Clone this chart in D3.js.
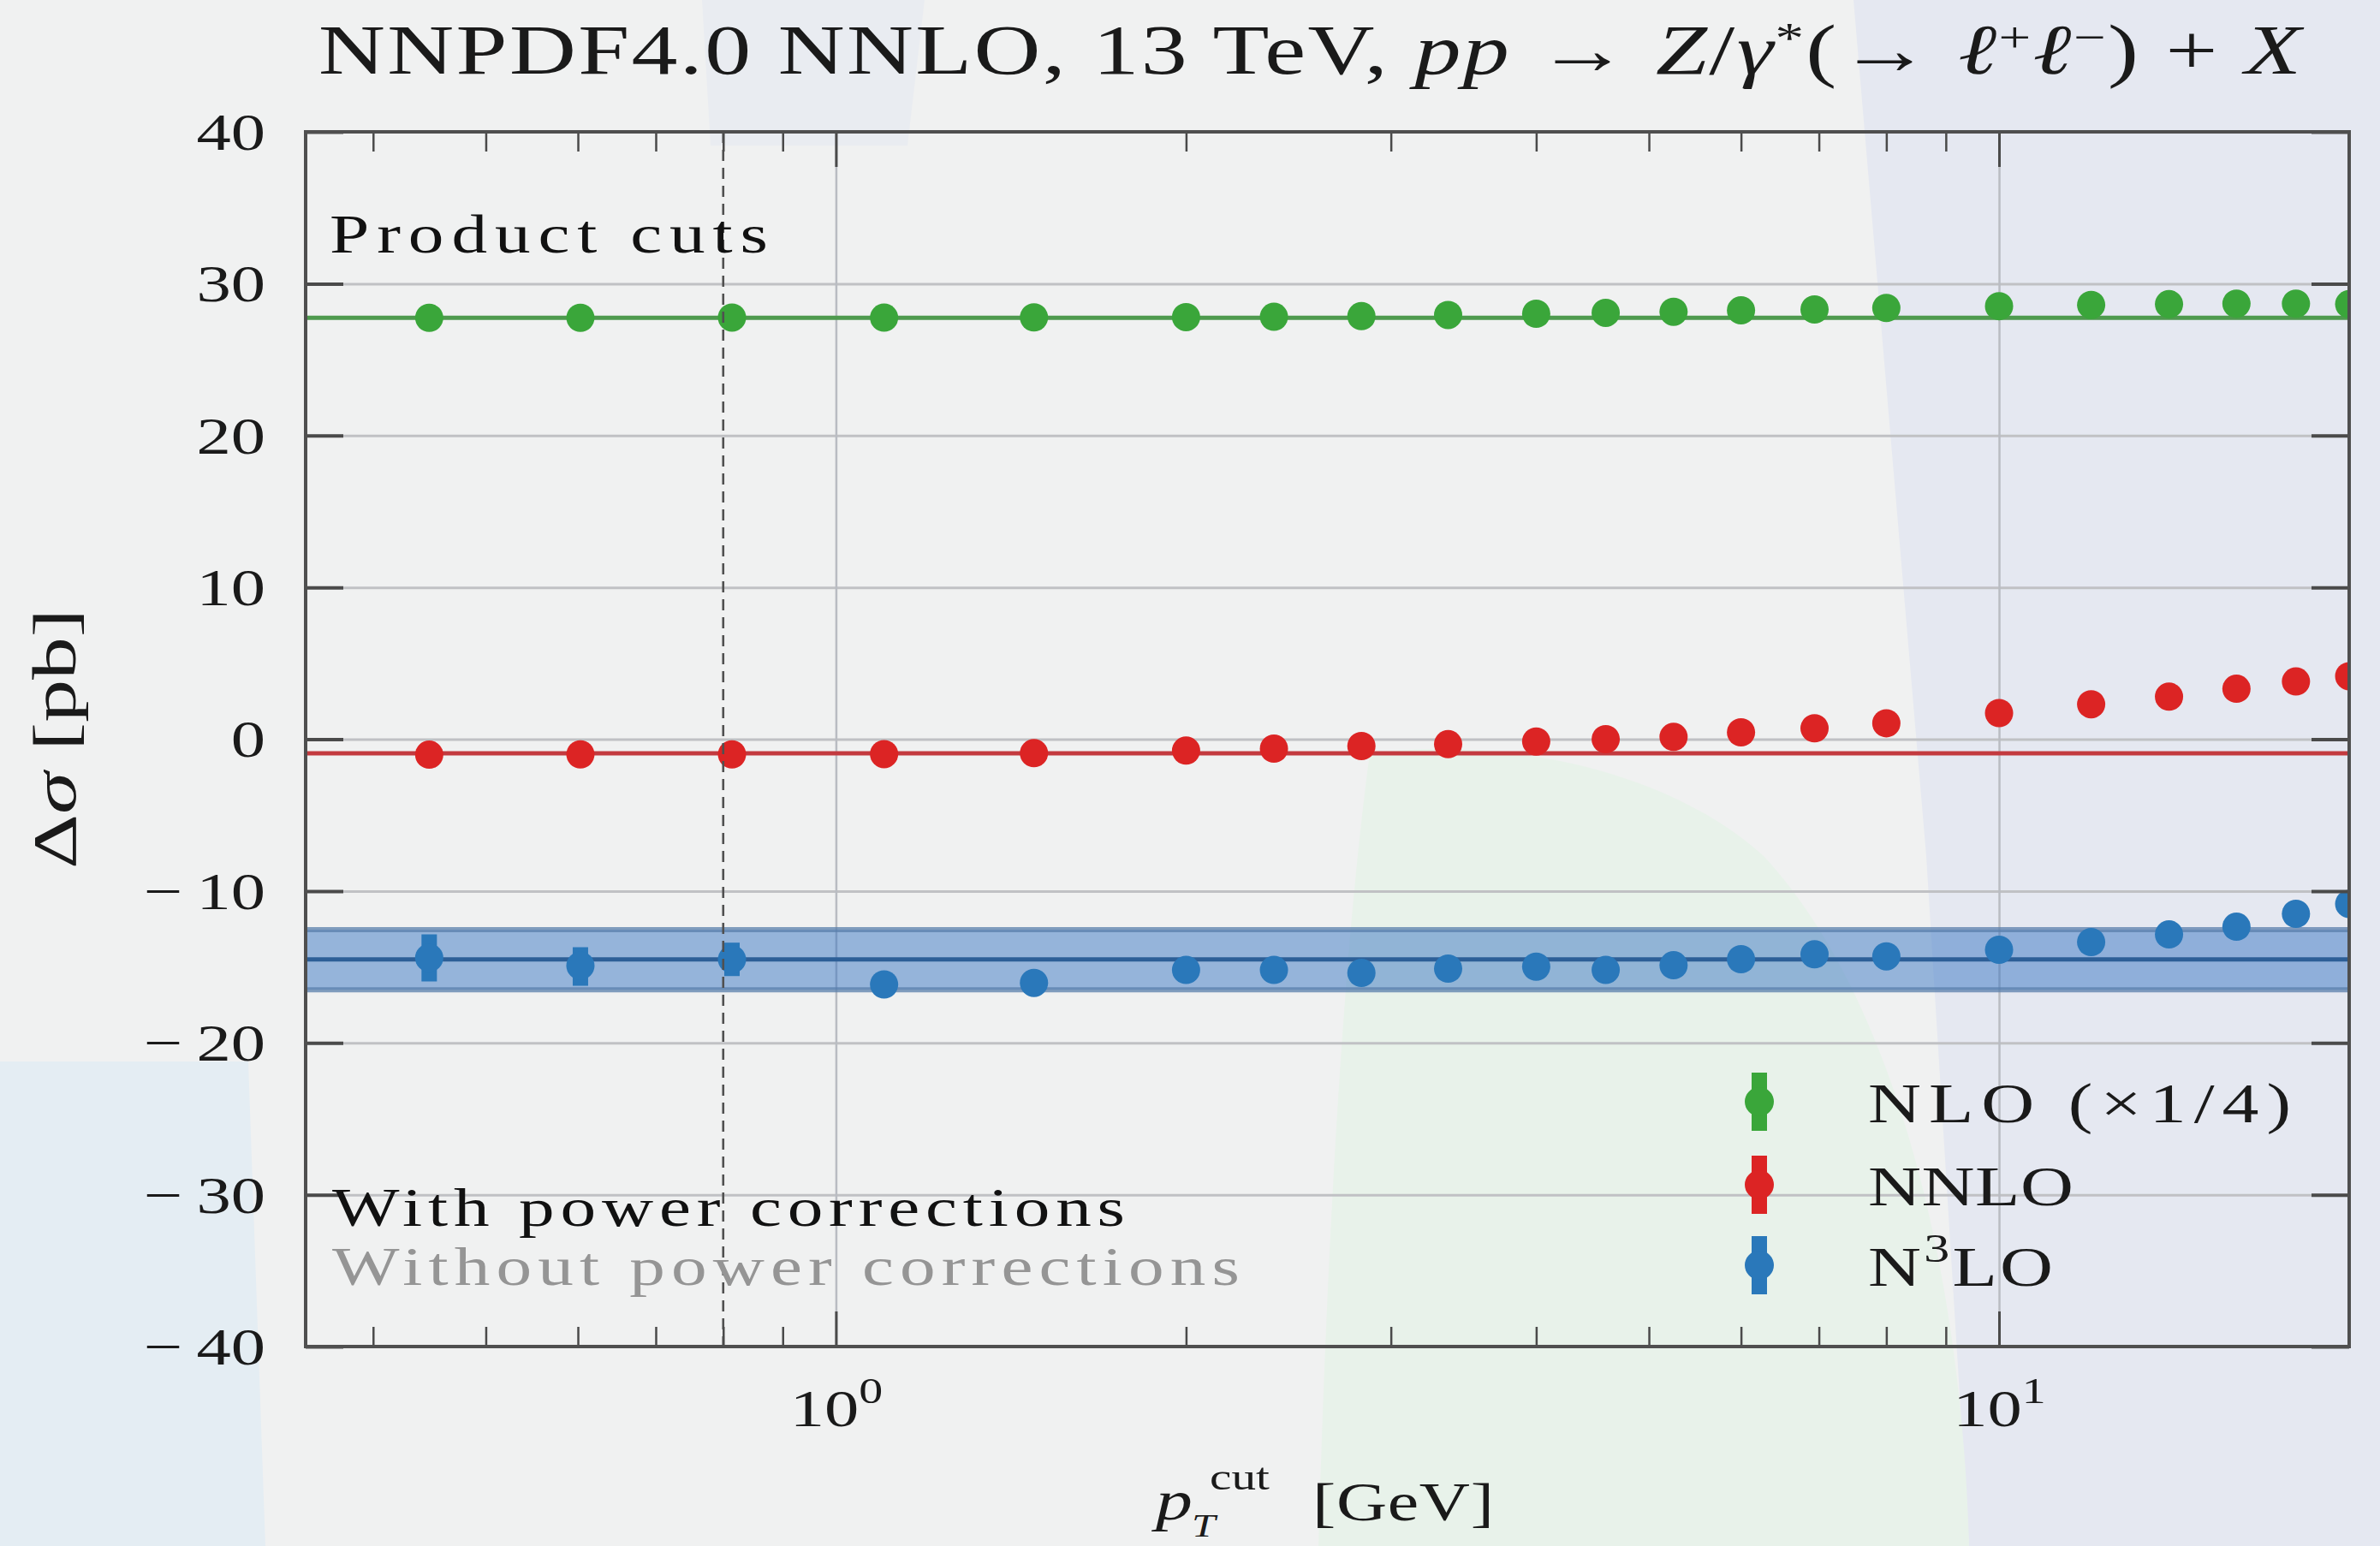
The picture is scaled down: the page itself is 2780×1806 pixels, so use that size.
<!DOCTYPE html>
<html><head><meta charset="utf-8">
<script src="https://cdn.jsdelivr.net/npm/d3@7"></script>
<style>
html,body{margin:0;padding:0;background:#f0f1f1;}
svg{display:block;}
text{font-family:"Liberation Serif","DejaVu Serif",serif;}
</style></head><body>
<svg id="chart" width="2780" height="1806"></svg>
<script>
// ---------------- data ----------------
const pTcut = [0.447, 0.603, 0.814, 1.1, 1.48, 2, 2.38, 2.83, 3.36, 4, 4.59, 5.25, 6, 6.94, 8, 10, 12, 14, 16, 18, 20];
const nloQuarter = [27.75, 27.75, 27.77, 27.76, 27.78, 27.8, 27.82, 27.86, 27.94, 28.02, 28.08, 28.15, 28.24, 28.3, 28.4, 28.52, 28.6, 28.65, 28.68, 28.68, 28.65];
const nnlo = [-1.02, -1.0, -1.0, -0.98, -0.92, -0.75, -0.62, -0.45, -0.33, -0.15, 0.0, 0.15, 0.45, 0.72, 1.05, 1.72, 2.3, 2.8, 3.32, 3.8, 4.15];
const n3lo = [-14.4, -14.92, -14.5, -16.15, -16.05, -15.2, -15.2, -15.39, -15.11, -14.98, -15.2, -14.89, -14.49, -14.17, -14.3, -13.87, -13.36, -12.86, -12.35, -11.5, -10.85];
const n3loErrUp = [1.54, 1.22, 1.1, 0, 0, 0, 0, 0, 0, 0, 0, 0, 0, 0, 0, 0, 0, 0, 0, 0, 0];
const n3loErrDown = [1.56, 1.32, 1.1, 0, 0, 0, 0, 0, 0, 0, 0, 0, 0, 0, 0, 0, 0, 0, 0, 0, 0];
const nloRef = 27.75;
const nnloRef = -0.93;
const n3loRef = -14.5;
const n3loBand = [-16.5, -12.55];
const productCut = 0.8;
const yTicks = [-40, -30, -20, -10, 0, 10, 20, 30, 40];
const xMajorTicks = [1, 10];
const xMinorTicks = [0.4, 0.5, 0.6, 0.7, 0.8, 0.9, 2, 3, 4, 5, 6, 7, 8, 9, 20];
const legendLabels = ["NLO", "NNLO", "N3LO"];

// ---------------- layout ----------------
const W = 2780, H = 1806;
const M = {left: 357, right: 2744, top: 154, bottom: 1573};
const PW = M.right - M.left, PH = M.bottom - M.top;
const svg = d3.select("#chart");

const col = {
  green: "#3aa63a", greenLine: "#4e9a4e",
  red: "#dc2424", redLine: "#c33a3f",
  blue: "#2a78ba", blueLine: "#2d5f97"
};

// ---------------- background ----------------
const bg = svg.append("g");
bg.append("rect").attr("width", W).attr("height", H).attr("fill", "#f0f1f1");
bg.append("path").attr("d", "M820,0 L1080,0 L1060,170 L830,170 Z").attr("fill", "#e9ecf1");
bg.append("path").attr("d", "M2165,0 L2780,0 L2780,1806 L2300,1806 L2250,1000 Z").attr("fill", "#e5e8f1");
bg.append("path").attr("d", "M1600,880 C1760,860 1950,900 2060,1000 C2200,1150 2290,1450 2300,1806 L1540,1806 C1550,1450 1570,1100 1600,880 Z").attr("fill", "#e8f2ea");
bg.append("path").attr("d", "M0,1240 L290,1240 L310,1806 L0,1806 Z").attr("fill", "#e4edf3");

// ---------------- scales ----------------
const x = d3.scaleLog().domain([0.35, 20]).range([M.left, M.right]);
const y = d3.scaleLinear().domain([-40, 40]).range([M.bottom, M.top]);

svg.append("defs").append("clipPath").attr("id", "clip").append("rect")
  .attr("x", M.left).attr("y", M.top).attr("width", PW).attr("height", PH);

// ---------------- grid ----------------
const grid = svg.append("g");
grid.append("g").attr("transform", `translate(${M.left},0)`)
  .call(d3.axisLeft(y).tickValues(yTicks.slice(1, -1)).tickSize(-PW).tickFormat(""))
  .call(g => g.select(".domain").remove())
  .call(g => g.selectAll("line").attr("stroke", "#c0c1c4").attr("stroke-width", 3));
grid.append("g").attr("transform", `translate(0,${M.bottom})`)
  .call(d3.axisBottom(x).tickValues(xMajorTicks).tickSize(-PH).tickFormat(""))
  .call(g => g.select(".domain").remove())
  .call(g => g.selectAll("line").attr("stroke", "#b9bcc2").attr("stroke-width", 2.5));

// ---------------- data layer ----------------
const plot = svg.append("g").attr("clip-path", "url(#clip)");
const dom = x.domain();
plot.append("path").datum(dom)
  .attr("d", d3.area().x(d => x(d)).y0(y(n3loBand[0])).y1(y(n3loBand[1])))
  .attr("fill", "#2e6fc0").attr("fill-opacity", 0.47);
n3loBand.forEach(v => {
  plot.append("path").datum(dom)
    .attr("d", d3.line().x(d => x(d)).y(() => y(v)))
    .attr("stroke", "#5a7fab").attr("stroke-width", 6).attr("stroke-opacity", 0.75).attr("fill", "none");
});
const refLines = [[nloRef, col.greenLine], [nnloRef, col.redLine], [n3loRef, col.blueLine]];
refLines.forEach(([v, c]) => {
  plot.append("path").datum(dom)
    .attr("d", d3.line().x(d => x(d)).y(() => y(v)))
    .attr("stroke", c).attr("stroke-width", 5).attr("fill", "none");
});

// N3LO error bars
plot.append("g").selectAll("line")
  .data(pTcut.map((p, i) => ({p, v: n3lo[i], up: n3loErrUp[i], dn: n3loErrDown[i]})).filter(d => d.up > 0 || d.dn > 0))
  .join("line")
  .attr("x1", d => x(d.p)).attr("x2", d => x(d.p))
  .attr("y1", d => y(d.v - d.dn)).attr("y2", d => y(d.v + d.up))
  .attr("stroke", col.blue).attr("stroke-width", 18);

const series = [[nloQuarter, col.green], [nnlo, col.red], [n3lo, col.blue]];
series.forEach(([vals, c]) => {
  plot.append("g").selectAll("circle").data(pTcut.map((p, i) => [p, vals[i]]))
    .join("circle")
    .attr("cx", d => x(d[0])).attr("cy", d => y(d[1])).attr("r", 16.5).attr("fill", c);
});

// product-cut dashed line
svg.append("line")
  .attr("x1", x(productCut)).attr("x2", x(productCut)).attr("y1", M.top).attr("y2", M.bottom)
  .attr("stroke", "#505050").attr("stroke-width", 2.6).attr("stroke-dasharray", "13,8");

// ---------------- axes / ticks ----------------
const tickColor = "#4a4a4a";
function clean(g, w) {
  g.select(".domain").remove();
  g.selectAll("line").attr("stroke", tickColor).attr("stroke-width", w);
  g.attr("font-family", null).attr("font-size", null);
}
const fmtY = d => d < 0 ? "\u2212\u2009" + Math.abs(d) : String(d);

const yL = svg.append("g").attr("transform", `translate(${M.left},0)`)
  .call(d3.axisLeft(y).tickValues(yTicks).tickSizeInner(-44).tickSizeOuter(0).tickPadding(47).tickFormat(fmtY))
  .call(g => clean(g, 4));
yL.selectAll("text")
  .attr("x", 0).attr("transform", "translate(-47,0) scale(1.3,1)")
  .attr("font-size", 62).attr("fill", "#1a1a1a").attr("dy", "0.33em");

svg.append("g").attr("transform", `translate(${M.right},0)`)
  .call(d3.axisRight(y).tickValues(yTicks).tickSizeInner(-44).tickSizeOuter(0).tickFormat(""))
  .call(g => clean(g, 4));

const xB = svg.append("g").attr("transform", `translate(0,${M.bottom})`)
  .call(d3.axisBottom(x).tickValues(xMajorTicks).tickSizeInner(-41).tickSizeOuter(0).tickFormat(() => ""))
  .call(g => clean(g, 3));
xB.selectAll("text").each(function(d) {
  const t = d3.select(this);
  t.attr("x", 0).attr("y", 93).attr("dy", null).attr("font-size", 62).attr("fill", "#1a1a1a")
   .attr("transform", "scale(1.3,1)").attr("text-anchor", "middle");
  t.append("tspan").text("10");
  t.append("tspan").text(String(Math.round(Math.log10(d)))).attr("font-size", 43).attr("dy", -27);
});
svg.append("g").attr("transform", `translate(0,${M.bottom})`)
  .call(d3.axisBottom(x).tickValues(xMinorTicks).tickSizeInner(-23).tickSizeOuter(0).tickFormat(""))
  .call(g => clean(g, 2.5));
svg.append("g").attr("transform", `translate(0,${M.top})`)
  .call(d3.axisTop(x).tickValues(xMajorTicks).tickSizeInner(-41).tickSizeOuter(0).tickFormat(""))
  .call(g => clean(g, 3));
svg.append("g").attr("transform", `translate(0,${M.top})`)
  .call(d3.axisTop(x).tickValues(xMinorTicks).tickSizeInner(-23).tickSizeOuter(0).tickFormat(""))
  .call(g => clean(g, 2.5));

svg.append("rect").attr("x", M.left).attr("y", M.top).attr("width", PW).attr("height", PH)
  .attr("fill", "none").attr("stroke", "#4f4f4f").attr("stroke-width", 4);

// ---------------- text helpers ----------------
function rich(sel, segs, fs, raise = 0.42, ss = 0.7) {
  let off = 0;
  segs.forEach(s => {
    const target = s.sup ? -raise * fs : s.sub ? 0.28 * fs : 0;
    const ts = sel.append("tspan").text(s.t).attr("dy", target - off);
    off = target;
    if (s.sup || s.sub) ts.attr("font-size", ss * fs);
    if (s.i) ts.attr("font-style", "italic");
  });
}
function fit(sel, x0, yb, target, stretch) {
  sel.attr("x", 0).attr("y", 0)
    .attr("transform", `translate(${x0},${yb}) scale(${stretch},1)`)
    .attr("textLength", target / stretch).attr("lengthAdjust", "spacing");
}

// title
const title = svg.append("text").attr("font-size", 83).attr("fill", "#1a1a1a");
rich(title, [
  {t: "NNPDF4.0 NNLO, 13 TeV, "}, {t: "pp", i: 1}, {t: " \u2192 "}, {t: "Z", i: 1}, {t: "/"},
  {t: "\u03b3", i: 1}, {t: "*", sup: 1}, {t: "(\u2192 "}, {t: "\u2113", i: 1}, {t: "+", sup: 1},
  {t: "\u2113", i: 1}, {t: "\u2212", sup: 1}, {t: ") + "}, {t: "X", i: 1}
], 83, 0.3, 0.62);
fit(title, 372, 86, 2316, 1.3);

// annotations
fit(svg.append("text").attr("font-size", 64).attr("fill", "#111").text("Product cuts"), 385, 295, 512, 1.3);
fit(svg.append("text").attr("font-size", 64).attr("fill", "#111").text("With power corrections"), 388, 1432, 926, 1.3);
fit(svg.append("text").attr("font-size", 64).attr("fill", "#959595").text("Without power corrections"), 388, 1501, 1060, 1.3);

// axis labels
const yLab = svg.append("text").attr("font-size", 72).attr("fill", "#1a1a1a").attr("text-anchor", "middle")
  .attr("transform", "translate(88,863) rotate(-90)")
  .attr("textLength", 304).attr("lengthAdjust", "spacingAndGlyphs");
rich(yLab, [{t: "\u0394"}, {t: "\u03c3", i: 1}, {t: " [pb]"}], 72);

fit(svg.append("text").attr("font-size", 66).attr("font-style", "italic").attr("fill", "#1a1a1a").text("p"), 1350, 1775, 52, 1.3);
fit(svg.append("text").attr("font-size", 44).attr("fill", "#1a1a1a").text("cut"), 1413, 1740, 70, 1.3);
fit(svg.append("text").attr("font-size", 38).attr("font-style", "italic").attr("fill", "#1a1a1a").text("T"), 1392, 1795, 32, 1.3);
fit(svg.append("text").attr("font-size", 63).attr("fill", "#1a1a1a").text("[GeV]"), 1533, 1776, 212, 1.3);

// ---------------- legend ----------------
const legX = 2055, legRows = [1287, 1384, 1478], legColors = [col.green, col.red, col.blue];
const legText = [
  [{t: "NLO (\u00d71/4)"}],
  [{t: "NNLO"}],
  [{t: "N"}, {t: "3", sup: 1}, {t: "LO"}]
];
const legWidths = [494, 240, 216];
legendLabels.forEach((name, i) => {
  const g = svg.append("g").attr("class", "legend-" + name);
  g.append("line").attr("x1", legX).attr("x2", legX).attr("y1", legRows[i] - 34).attr("y2", legRows[i] + 34)
    .attr("stroke", legColors[i]).attr("stroke-width", 18);
  g.append("circle").attr("cx", legX).attr("cy", legRows[i]).attr("r", 17).attr("fill", legColors[i]);
  const t = g.append("text").attr("font-size", 66).attr("fill", "#1a1a1a");
  rich(t, legText[i], 66);
  fit(t, 2182, legRows[i] + 24, legWidths[i], 1.3);
});
</script>
</body></html>
